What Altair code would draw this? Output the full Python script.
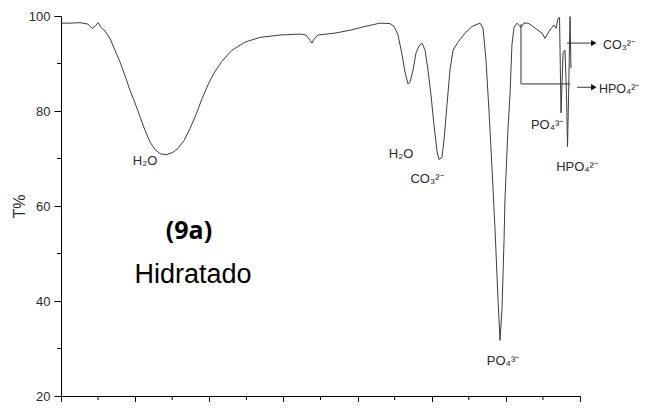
import altair as alt
import pandas as pd

# Spectrum (wavenumber cm-1, transmittance %)
wavenumber = [3993,3939,3872,3818,3791,3771,3750,3730,3703,3670,
              3636,3602,3568,3535,3501,3467,3433,3400,3366,3332,
              3292,3251,3211,3170,3130,3090,3049,3009,2968,2914,
              2847,2759,2658,2523,2388,2348,2321,2307,2294,2267,
              2152,2051,1950,1849,1781,1754,1727,1700,1680,1660,
              1646,1626,1606,1586,1565,1545,1525,1505,1485,1464,
              1451,1431,1417,1397,1377,1356,1323,1275,1228,1174,
              1154,1134,1114,1093,1073,1053,1039,1026,1012,1006,
              999,986,972,959,945,925,911,898,878,851,
              817,783,756,736,716,689,676,662,648,638,
              628,614,601,591,584,577,567,561]
transmittance = [98.5,98.5,98.6,98.3,97.4,97.8,98.6,97.6,96.8,95.3,
                 92.8,90.3,87.4,84.4,81.7,78.8,75.9,73.5,71.9,71.0,
                 70.8,71.2,72.1,73.8,76.3,79.2,82.6,85.5,88.0,90.5,
                 92.8,94.5,95.5,96.0,96.2,96.0,94.9,94.3,95.1,96.0,
                 96.4,97.0,97.8,98.5,98.4,97.8,96.0,91.8,88.2,85.7,
                 86.1,88.6,92.2,93.7,94.3,92.8,88.6,83.4,77.1,71.5,
                 69.8,70.2,73.9,81.3,88.6,92.8,94.5,96.4,97.8,98.5,
                 97.4,90.7,80.2,67.7,55.1,40.4,31.7,38.4,53.0,61.4,
                 66.6,76.1,83.4,93.9,97.6,98.5,98.0,97.6,98.5,98.5,
                 97.8,97.0,96.4,95.3,96.4,97.6,98.1,97.4,99.5,99.7,
                 79.6,92.4,92.8,83.4,72.5,83.4,99.9,89.0]

x_major = [4000, 3500, 3000, 2500, 2000, 1500, 1000, 500]
x_minor = [3750, 3250, 2750, 2250, 1750, 1250, 750]
y_major = [20, 40, 60, 80, 100]
y_minor = [30, 50, 70, 90]

# Peak labels
label_text = ["H₂O", "H₂O", "CO₃²⁻", "PO₄³⁻", "PO₄³⁻", "HPO₄²⁻"]
label_x = [3433, 1707, 1532, 1019, 722, 520]
label_y = [69.4, 71.0, 65.6, 27.3, 77.1, 68.3]

side_text = ["CO₃²⁻", "HPO₄²⁻"]
side_x = [345, 372]
side_y = [93.9, 84.6]

# Annotation segments
seg_x = [898, 898, 520, 588]
seg_x2 = [898, 567, 412, 412]
seg_y = [98.3, 85.7, 85.0, 94.3]
seg_y2 = [85.7, 85.7, 85.0, 94.3]
head_x = [407, 407]
head_y = [85.0, 94.3]

W, H = 519, 380
FONT = "Liberation Sans"
INK = "#2a2a2a"

xs = alt.Scale(domain=[4000, 500], nice=False, zero=False)
ys = alt.Scale(domain=[20, 100], nice=False, zero=False)

spec = pd.DataFrame({"wn": wavenumber, "T": transmittance, "i": range(len(wavenumber))})

line = alt.Chart(spec).mark_line(color="#3c3c3c", strokeWidth=1).encode(
    x=alt.X("wn:Q", scale=xs,
            axis=alt.Axis(values=x_major, labels=False, title=None, tickSize=7,
                          grid=False, domainColor="black", tickColor="black")),
    y=alt.Y("T:Q", scale=ys,
            axis=alt.Axis(values=y_major, title="T%", tickSize=7, grid=False,
                          domainColor="black", tickColor="black",
                          labelFont=FONT, labelFontSize=13, labelColor=INK,
                          labelPadding=4, titleFont=FONT, titleFontSize=16,
                          titleFontWeight="normal", titleColor=INK,
                          titleX=-34, titleBaseline="bottom")),
    order="i:Q",
)

xminor = alt.Chart(pd.DataFrame({"v": x_minor})).mark_rule(color="black", strokeWidth=1).encode(
    x=alt.X("v:Q", scale=xs), y=alt.value(H), y2=alt.value(H + 4))
yminor = alt.Chart(pd.DataFrame({"v": y_minor})).mark_rule(color="black", strokeWidth=1).encode(
    y=alt.Y("v:Q", scale=ys), x=alt.value(-4), x2=alt.value(0))

segs = alt.Chart(pd.DataFrame({"x": seg_x, "x2": seg_x2, "y": seg_y, "y2": seg_y2})).mark_rule(
    color="#333333", strokeWidth=1).encode(
    x=alt.X("x:Q", scale=xs), x2="x2:Q", y=alt.Y("y:Q", scale=ys), y2="y2:Q")

heads = alt.Chart(pd.DataFrame({"x": head_x, "y": head_y})).mark_point(
    shape="triangle-right", filled=True, color="#111111", size=40, opacity=1).encode(
    x=alt.X("x:Q", scale=xs), y=alt.Y("y:Q", scale=ys))

labels = alt.Chart(pd.DataFrame({"t": label_text, "x": label_x, "y": label_y})).mark_text(
    font=FONT, fontSize=13, color=INK, align="center", baseline="middle").encode(
    x=alt.X("x:Q", scale=xs), y=alt.Y("y:Q", scale=ys), text="t:N")

side = alt.Chart(pd.DataFrame({"t": side_text, "x": side_x, "y": side_y})).mark_text(
    font=FONT, fontSize=12.5, color=INK, align="left", baseline="middle").encode(
    x=alt.X("x:Q", scale=xs), y=alt.Y("y:Q", scale=ys), text="t:N")

tag = alt.Chart(pd.DataFrame({"t": ["(9a)"], "x": [3137], "y": [54.7]})).mark_text(
    font="Open Sans", fontSize=25, fontWeight="bold", color="black",
    align="center", baseline="middle").encode(
    x=alt.X("x:Q", scale=xs), y=alt.Y("y:Q", scale=ys), text="t:N")

state = alt.Chart(pd.DataFrame({"t": ["Hidratado"], "x": [3110], "y": [45.5]})).mark_text(
    font=FONT, fontSize=27, color="black", align="center", baseline="middle").encode(
    x=alt.X("x:Q", scale=xs), y=alt.Y("y:Q", scale=ys), text="t:N")

chart = alt.layer(line, xminor, yminor, segs, heads, labels, side, tag, state).properties(
    width=W, height=H,
    autosize=alt.AutoSizeParams(type="none"),
    padding={"left": 53, "top": 8, "right": 62, "bottom": 6},
    background="white",
).configure_view(stroke=None)

chart.save("out.html", embed_options={"renderer": "svg", "actions": False})
